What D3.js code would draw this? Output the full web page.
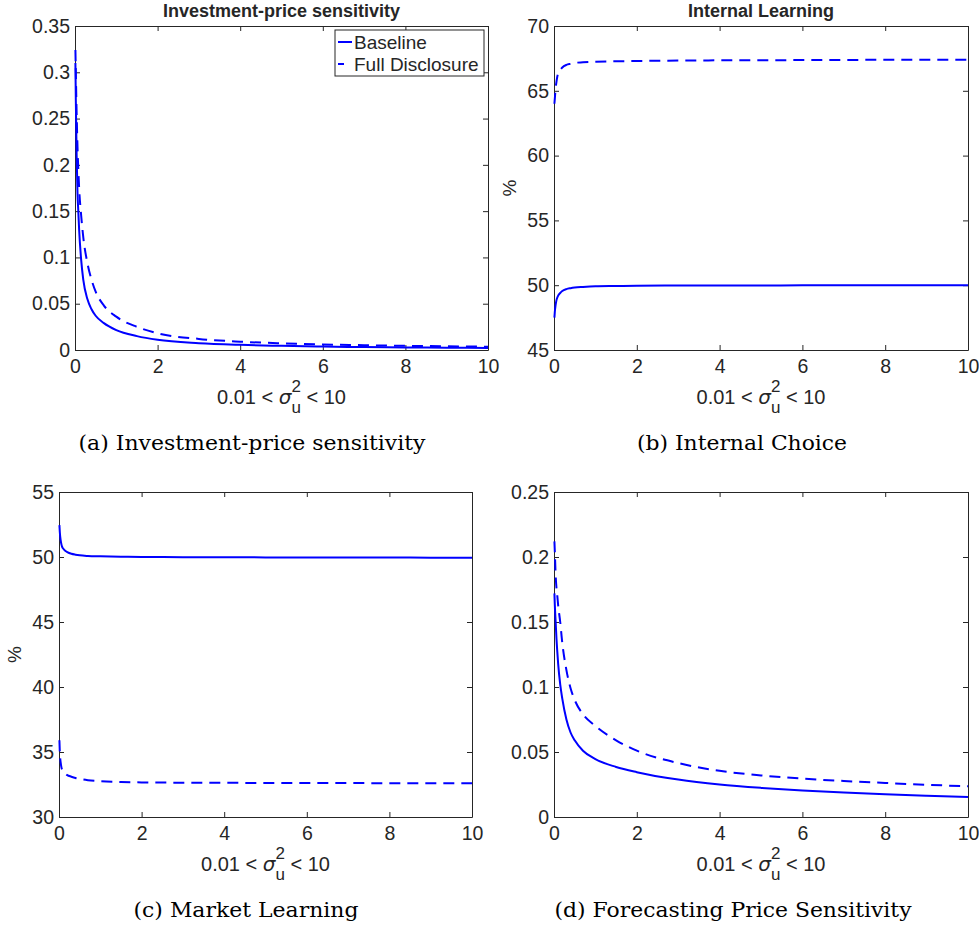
<!DOCTYPE html>
<html>
<head>
<meta charset="utf-8">
<script src="https://cdn.jsdelivr.net/npm/d3@7"></script>
<style>
  body { margin: 0; background: #fff; }
  svg { display: block; }
  text { font-family: "Liberation Sans", Arial, sans-serif; fill: #262626; }
  .caption { font-family: "DejaVu Serif", serif; fill: #000; }
</style>
</head>
<body>
<div id="chart"></div>
<script>

// sigma_u^2 sample points (shared by every series)
var sigmaGrid = [0.01, 0.02, 0.04, 0.06, 0.08, 0.1, 0.15, 0.2, 0.3, 0.4, 0.5, 0.7,
                 1, 1.5, 2, 3, 4, 5, 6, 7, 8, 9, 10];

// (a) investment-price sensitivity
var investBaseline = [0.31, 0.27, 0.21, 0.17, 0.15, 0.13, 0.097, 0.076, 0.055, 0.044, 0.037, 0.029,
                      0.0215, 0.015, 0.011, 0.0074, 0.0056, 0.0045, 0.0037, 0.0032, 0.0028, 0.0025, 0.0022];
var investFull = [0.324, 0.30, 0.255, 0.22, 0.195, 0.175, 0.145, 0.122, 0.094, 0.076, 0.063, 0.048,
                  0.036, 0.025, 0.018, 0.012, 0.009, 0.0072, 0.006, 0.0052, 0.0045, 0.004, 0.0036];

// (b) internal learning, %
var internalBaseline = [47.5, 47.95, 48.5, 48.85, 49.05, 49.2, 49.4, 49.55, 49.7, 49.77, 49.82, 49.87,
                        49.92, 49.94, 49.96, 49.97, 49.98, 49.98, 49.99, 49.99, 49.99, 50.0, 50.0];
var internalFull = [64.0, 64.4, 65.2, 65.7, 66.1, 66.35, 66.6, 66.8, 67.0, 67.08, 67.15, 67.2,
                    67.25, 67.28, 67.3, 67.33, 67.35, 67.36, 67.37, 67.38, 67.39, 67.39, 67.4];

// (c) market learning, %
var marketBaseline = [52.45, 51.9, 51.3, 50.95, 50.75, 50.65, 50.48, 50.38, 50.25, 50.18, 50.13, 50.08,
                      50.05, 50.02, 50.0, 49.99, 49.98, 49.97, 49.97, 49.96, 49.96, 49.95, 49.95];
var marketFull = [35.9, 35.0, 34.2, 33.8, 33.6, 33.5, 33.35, 33.22, 33.1, 33.0, 32.93, 32.83,
                  32.75, 32.69, 32.66, 32.64, 32.63, 32.62, 32.61, 32.61, 32.6, 32.6, 32.6];

// (d) forecasting price sensitivity
var forecastBaseline = [0.172, 0.163, 0.15, 0.137, 0.127, 0.118, 0.102, 0.091, 0.075, 0.065, 0.059, 0.051,
                        0.0445, 0.0385, 0.0345, 0.0288, 0.025, 0.0224, 0.0204, 0.0188, 0.0175, 0.0164, 0.0154];
var forecastFull = [0.212, 0.204, 0.186, 0.176, 0.17, 0.163, 0.15, 0.134, 0.113, 0.099, 0.09, 0.079,
                    0.07, 0.059, 0.051, 0.0415, 0.0355, 0.032, 0.0295, 0.0277, 0.0262, 0.0248, 0.0236];

// ticks
var xTicks = [0, 2, 4, 6, 8, 10];
var yTicksA = [0, 0.05, 0.1, 0.15, 0.2, 0.25, 0.3, 0.35];
var yTicksB = [45, 50, 55, 60, 65, 70];
var yTicksC = [30, 35, 40, 45, 50, 55];
var yTicksD = [0, 0.05, 0.1, 0.15, 0.2, 0.25];

var seriesNames = ["Baseline", "Full Disclosure"];
var captions = ["(a) Investment-price sensitivity", "(b) Internal Choice",
                "(c) Market Learning", "(d) Forecasting Price Sensitivity"];

var svg = d3.select("#chart")
    .append("svg")
    .attr("width", 979)
    .attr("height", 928);

var blue = "#0000ff";
var axisColor = "#262626";

function drawPanel(p) {
    var width = p.right - p.left;
    var height = p.bottom - p.top;

    var x = d3.scaleLinear().domain([0, 10]).range([0, width]);
    var y = d3.scaleLinear().domain(p.yDomain).range([height, 0]);

    var g = svg.append("g")
        .attr("transform", `translate(${p.left}, ${p.top})`);

    var fmt = d3.format("~g");

    // bottom and left axes carry labels, ticks point inwards
    g.append("g")
        .attr("transform", `translate(0, ${height})`)
        .call(d3.axisBottom(x).tickValues(xTicks).tickSizeInner(-5).tickSizeOuter(0).tickPadding(9).tickFormat(fmt));
    g.append("g")
        .call(d3.axisLeft(y).tickValues(p.yTicks).tickSizeInner(-5).tickSizeOuter(0).tickPadding(5).tickFormat(fmt));
    g.append("g")
        .call(d3.axisTop(x).tickValues(xTicks).tickSizeInner(-5).tickSizeOuter(0).tickFormat(""));
    g.append("g")
        .attr("transform", `translate(${width}, 0)`)
        .call(d3.axisRight(y).tickValues(p.yTicks).tickSizeInner(-5).tickSizeOuter(0).tickFormat(""));

    g.selectAll(".domain, .tick line").attr("stroke", axisColor).attr("stroke-width", 1);
    g.selectAll(".tick text")
        .attr("fill", axisColor)
        .style("font-size", "19.5px")
        .style("font-family", "'Liberation Sans', Arial, sans-serif");

    // curves
    var line = d3.line()
        .x(function (d) { return x(d[0]); })
        .y(function (d) { return y(d[1]); })
        .curve(d3.curveMonotoneX);

    g.append("path")
        .datum(d3.zip(sigmaGrid, p.baseline))
        .attr("d", line)
        .attr("fill", "none")
        .attr("stroke", blue)
        .attr("stroke-width", 2);

    g.append("path")
        .datum(d3.zip(sigmaGrid, p.full))
        .attr("d", line)
        .attr("fill", "none")
        .attr("stroke", blue)
        .attr("stroke-width", 2)
        .attr("stroke-dasharray", "11,7");

    // x axis label: 0.01 < sigma_u^2 < 10
    var xl = g.append("text")
        .attr("x", width / 2)
        .attr("y", height + 54)
        .attr("text-anchor", "middle")
        .style("font-size", "20px");
    xl.append("tspan").text("0.01 < ");
    xl.append("tspan").style("font-style", "italic").style("font-family", "'DejaVu Sans', sans-serif").text("σ");
    xl.append("tspan").attr("dy", -12).style("font-size", "17px").text("2");
    xl.append("tspan").attr("dx", -9.5).attr("dy", 21).style("font-size", "17px").text("u");
    xl.append("tspan").attr("dy", -9).text(" < 10");

    if (p.title) {
        g.append("text")
            .attr("x", width / 2)
            .attr("y", -9)
            .attr("text-anchor", "middle")
            .style("font-size", "18px")
            .style("font-weight", "bold")
            .attr("fill", "#000")
            .text(p.title);
    }

    if (p.yLabel) {
        g.append("text")
            .attr("transform", `translate(${p.yLabelX}, ${height / 2}) rotate(-90)`)
            .attr("text-anchor", "middle")
            .style("font-size", "19px")
            .text(p.yLabel);
    }

    // sub-figure caption
    svg.append("text")
        .attr("class", "caption")
        .attr("x", p.captionX)
        .attr("y", p.bottom + 100)
        .attr("text-anchor", "middle")
        .attr("textLength", p.captionW)
        .attr("lengthAdjust", "spacingAndGlyphs")
        .style("font-size", "20px")
        .text(p.caption);

    if (p.legend) {
        var lg = g.append("g").attr("transform", `translate(${width - 153}, 4)`);
        lg.append("rect")
            .attr("width", 149)
            .attr("height", 46)
            .attr("fill", "#fff")
            .attr("stroke", axisColor)
            .attr("stroke-width", 1);
        seriesNames.forEach(function (name, i) {
            var yy = 12 + i * 22;
            lg.append("line")
                .attr("x1", 3).attr("x2", 17)
                .attr("y1", yy).attr("y2", yy)
                .attr("stroke", blue)
                .attr("stroke-width", 2)
                .attr("stroke-dasharray", i === 1 ? "6,8" : null);
            lg.append("text")
                .attr("x", 19)
                .attr("y", yy + 6.5)
                .style("font-size", "19px")
                .attr("fill", "#000")
                .text(name);
        });
    }
}

drawPanel({
    left: 75, right: 488, top: 26, bottom: 350,
    yDomain: [0, 0.35], yTicks: yTicksA,
    baseline: investBaseline, full: investFull,
    title: "Investment-price sensitivity", legend: true,
    caption: captions[0], captionX: 252, captionW: 347
});
drawPanel({
    left: 554, right: 968, top: 26, bottom: 350,
    yDomain: [45, 70], yTicks: yTicksB,
    baseline: internalBaseline, full: internalFull,
    title: "Internal Learning", yLabel: "%", yLabelX: -38,
    caption: captions[1], captionX: 742, captionW: 210
});
drawPanel({
    left: 59, right: 472, top: 492, bottom: 817,
    yDomain: [30, 55], yTicks: yTicksC,
    baseline: marketBaseline, full: marketFull,
    yLabel: "%", yLabelX: -38,
    caption: captions[2], captionX: 246, captionW: 225
});
drawPanel({
    left: 554, right: 968, top: 492, bottom: 817,
    yDomain: [0, 0.25], yTicks: yTicksD,
    baseline: forecastBaseline, full: forecastFull,
    caption: captions[3], captionX: 733, captionW: 357
});
</script>
</body>
</html>
